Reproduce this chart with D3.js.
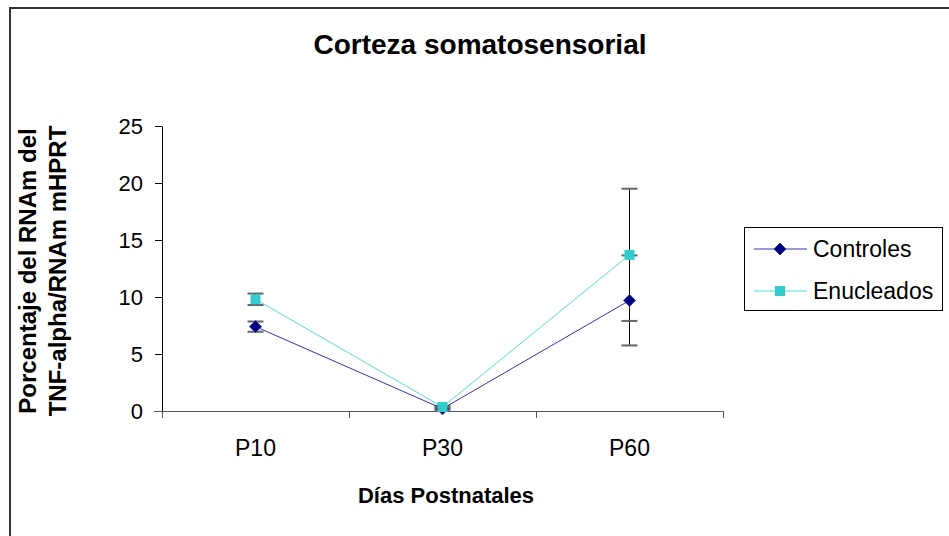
<!DOCTYPE html>
<html><head><meta charset="utf-8">
<script src="https://cdn.jsdelivr.net/npm/d3@7"></script>
<style>body{margin:0;background:#fff}svg{display:block}</style>
</head><body>
<script>
const categories = ["P10","P30","P60"];
const controles = [7.4, 0.2, 9.7];
const controlesErr = [0.45, 0.1, 3.95];
const enucleados = [9.8, 0.35, 13.7];
const enucleadosErr = [0.5, 0.1, 5.8];
const yTicks = [0,5,10,15,20,25];
const seriesNames = ["Controles","Enucleados"];

(function(){
const W=949,H=536;
const svg=d3.select("body").append("svg").attr("width",W).attr("height",H);
svg.append("rect").attr("x",10).attr("y",8).attr("width",W+10).attr("height",H+10)
  .attr("fill","#fff").attr("stroke","#333").attr("stroke-width",2);

const pLeft=162,pRight=723,pTop=126,pBottom=411;
const x=d3.scaleBand().domain(categories).range([pLeft,pRight]);
const y=d3.scaleLinear().domain([0,25]).range([pBottom,pTop]);
const font="Liberation Sans, Arial, sans-serif";

// title
svg.append("text").attr("x",480).attr("y",54).attr("text-anchor","middle")
  .attr("font-family",font).attr("font-weight","bold").attr("font-size",28).text("Corteza somatosensorial");

// y axis
const ya=svg.append("g").attr("transform",`translate(${pLeft},0)`)
  .call(d3.axisLeft(y).tickValues(yTicks).tickSize(7).tickSizeOuter(0).tickPadding(12));
ya.select(".domain").attr("stroke","#000");
ya.selectAll(".tick line").attr("stroke","#000");
ya.selectAll(".tick text").attr("font-family",font).attr("font-size",22).attr("fill","#000");

// x axis
const xa=svg.append("g").attr("transform",`translate(0,${pBottom})`)
  .call(d3.axisBottom(x).tickSize(0).tickPadding(29));
xa.select(".domain").remove();
xa.selectAll(".tick text").attr("font-family",font).attr("font-size",23).attr("fill","#000");
svg.append("line").attr("x1",pLeft-8).attr("x2",pRight).attr("y1",pBottom+0.5).attr("y2",pBottom+0.5)
  .attr("stroke","#555").attr("stroke-width",1);
const edges=categories.map(c=>x(c)).concat([pRight]);
svg.selectAll(".xt").data(edges).enter().append("line")
  .attr("x1",d=>Math.round(d)+0.5).attr("x2",d=>Math.round(d)+0.5)
  .attr("y1",pBottom).attr("y2",pBottom+7).attr("stroke","#555");

// axis titles
svg.append("text").attr("x",446).attr("y",503).attr("text-anchor","middle")
  .attr("font-family",font).attr("font-weight","bold").attr("font-size",22).text("Días Postnatales");
const yl=svg.append("text").attr("transform","translate(0,271) rotate(-90)")
  .attr("text-anchor","middle").attr("font-family",font).attr("font-weight","bold").attr("font-size",24);
yl.append("tspan").attr("x",0).attr("y",36).text("Porcentaje del RNAm del");
yl.append("tspan").attr("x",0).attr("y",66).text("TNF-alpha/RNAm mHPRT");

const cx=c=>x(c)+x.bandwidth()/2;
const series=[
  {name:seriesNames[0],vals:controles,err:controlesErr,line:"#3333b0",fill:"#000080",shape:"diamond"},
  {name:seriesNames[1],vals:enucleados,err:enucleadosErr,line:"#4fe0e0",fill:"#33CCCC",shape:"square"}
];

// error bars
series.forEach(s=>{
  categories.forEach((c,i)=>{
    const xc=Math.round(cx(c))-0.5;
    const y1=y(s.vals[i]+s.err[i]), y2=y(s.vals[i]-s.err[i]);
    svg.append("line").attr("x1",xc).attr("x2",xc).attr("y1",y1).attr("y2",y2).attr("stroke","#000");
    [y1,y2].forEach(yy=>svg.append("line").attr("x1",xc-8).attr("x2",xc+8).attr("y1",yy).attr("y2",yy)
      .attr("stroke","#666").attr("stroke-width",2));
  });
});

const line=d3.line().x((d,i)=>cx(categories[i])).y(d=>y(d));
function marker(g,s,px,py){
  if(s.shape==="diamond"){
    g.append("path").attr("d",`M${px},${py-6}L${px+6},${py}L${px},${py+6}L${px-6},${py}Z`)
      .attr("fill",s.fill).attr("stroke","#3333b0").attr("stroke-width",1);
  } else {
    g.append("rect").attr("x",px-5).attr("y",py-5).attr("width",10).attr("height",10).attr("fill",s.fill);
  }
}
series.forEach(s=>{
  svg.append("path").datum(s.vals).attr("d",line).attr("fill","none").attr("stroke",s.line).attr("stroke-width",1);
});
series.forEach(s=>{
  s.vals.forEach((v,i)=>marker(svg,s,cx(categories[i]),y(v)));
});

// legend
const lg=svg.append("g");
lg.append("rect").attr("x",744.5).attr("y",227.5).attr("width",198).attr("height",83)
  .attr("fill","#fff").attr("stroke","#000");
series.forEach((s,i)=>{
  const yy=249+i*42;
  lg.append("line").attr("x1",754).attr("x2",807).attr("y1",yy).attr("y2",yy).attr("stroke",s.line);
  marker(lg,s,780,yy);
  lg.append("text").attr("x",813).attr("y",yy+8).attr("font-family",font).attr("font-size",23).text(s.name);
});
})();
</script>
</body></html>
